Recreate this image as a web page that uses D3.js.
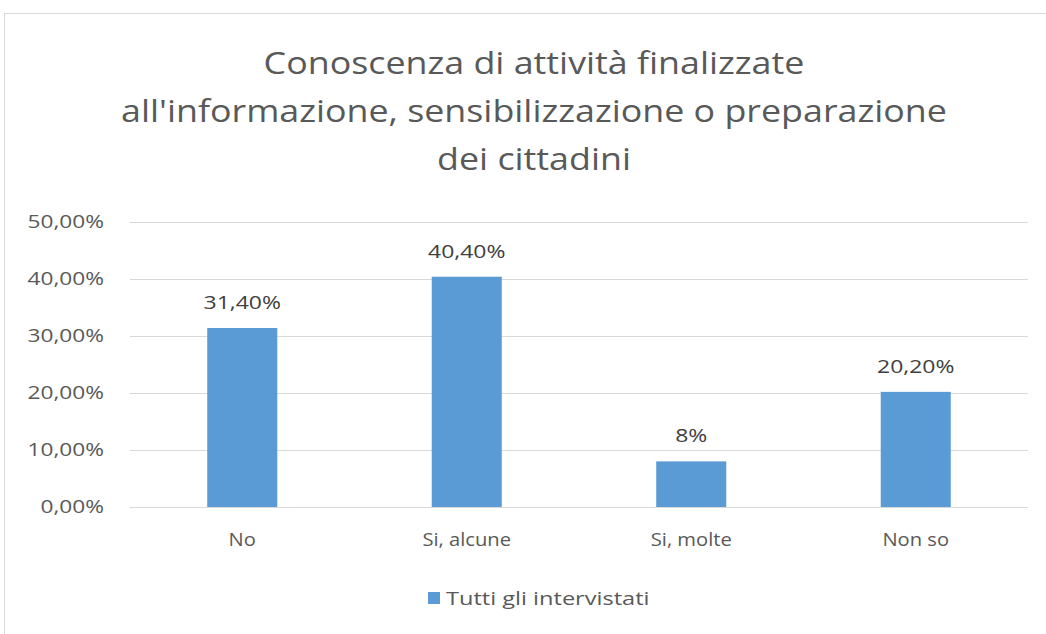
<!DOCTYPE html>
<html>
<head>
<meta charset="utf-8">
<script src="https://cdn.jsdelivr.net/npm/d3@7"></script>
<style>
  body { margin: 0; background: #fff; }
  svg { display: block; font-family: "Open Sans", sans-serif; }
</style>
</head>
<body>
<div id="chart"></div>
<script>
// data
let categories = ["No", "Si, alcune", "Si, molte", "Non so"];
let values = [0.314, 0.404, 0.08, 0.202];
let valueLabels = ["31,40%", "40,40%", "8%", "20,20%"];
let yTicks = [0, 0.1, 0.2, 0.3, 0.4, 0.5];
let yTickLabels = ["0,00%", "10,00%", "20,00%", "30,00%", "40,00%", "50,00%"];
let titleLines = ["Conoscenza di attività finalizzate", "all'informazione, sensibilizzazione o preparazione", "dei cittadini"];
let seriesName = "Tutti gli intervistati";

let W = 1046, H = 634;
let margin = {top: 222, right: 18, bottom: 127, left: 130};

// the reference text is drawn a bit wider than the font, stretch it
function stretch(sel, factor) {
  sel.each(function() {
    let len = this.getComputedTextLength();
    d3.select(this)
      .attr("textLength", len * factor)
      .attr("lengthAdjust", "spacingAndGlyphs");
  });
}

let svg = d3.select("#chart").append("svg")
  .attr("width", W)
  .attr("height", H);

// chart frame
svg.append("rect")
  .attr("x", 4.5).attr("y", 13.5)
  .attr("width", W + 10).attr("height", H + 10)
  .attr("fill", "#fff")
  .attr("stroke", "#d9d9d9");

let x = d3.scaleBand()
  .domain(categories)
  .range([margin.left, W - margin.right])
  .paddingInner(0.688)
  .paddingOuter(0.344);

let y = d3.scaleLinear()
  .domain([0, 0.5])
  .range([H - margin.bottom, margin.top]);

// title
let title = svg.append("text")
  .attr("text-anchor", "middle")
  .attr("fill", "#595959")
  .style("font-size", "31px")
  .selectAll("tspan")
  .data(titleLines)
  .enter()
  .append("tspan")
  .attr("x", 534)
  .attr("y", (d, i) => 74 + i * 48)
  .text(d => d);
stretch(title, 1.155);

// gridlines
svg.append("g")
  .selectAll("line")
  .data(yTicks)
  .enter()
  .append("line")
  .attr("x1", margin.left).attr("x2", W - margin.right)
  .attr("y1", d => Math.round(y(d)) + 0.5).attr("y2", d => Math.round(y(d)) + 0.5)
  .attr("stroke", "#d9d9d9")
  .attr("stroke-width", 1);

// y axis labels
let yAxis = d3.axisLeft(y)
  .tickValues(yTicks)
  .tickSize(0)
  .tickPadding(26)
  .tickFormat((d, i) => yTickLabels[i]);

let gy = svg.append("g")
  .attr("transform", "translate(" + margin.left + ",0)")
  .call(yAxis);
gy.select(".domain").remove();
gy.selectAll("text")
  .attr("fill", "#595959")
  .style("font-size", "18px")
  .style("font-family", "'Open Sans', sans-serif")
  .call(stretch, 1.26);

// bars
svg.append("g")
  .selectAll("rect")
  .data(values)
  .enter()
  .append("rect")
  .attr("x", (d, i) => x(categories[i]))
  .attr("y", d => y(d))
  .attr("width", x.bandwidth())
  .attr("height", d => y(0) - y(d))
  .attr("fill", "#5b9bd5");

// value labels
svg.append("g")
  .selectAll("text")
  .data(values)
  .enter()
  .append("text")
  .attr("x", (d, i) => x(categories[i]) + x.bandwidth() / 2)
  .attr("y", d => y(d) - 19)
  .attr("text-anchor", "middle")
  .attr("fill", "#404040")
  .style("font-size", "18.5px")
  .text((d, i) => valueLabels[i])
  .call(stretch, 1.24);

// x axis labels
let xAxis = d3.axisBottom(x).tickSize(0).tickPadding(26);
let gx = svg.append("g")
  .attr("transform", "translate(0," + y(0) + ")")
  .call(xAxis);
gx.select(".domain").remove();
gx.selectAll("text")
  .attr("fill", "#595959")
  .style("font-size", "18px")
  .style("font-family", "'Open Sans', sans-serif")
  .call(stretch, 1.12);

// legend
let legend = svg.append("g").attr("transform", "translate(428,592)");
legend.append("rect")
  .attr("width", 12).attr("height", 12)
  .attr("fill", "#5b9bd5");
legend.append("text")
  .attr("x", 18).attr("y", 12.5)
  .attr("fill", "#595959")
  .style("font-size", "19px")
  .text(seriesName)
  .call(stretch, 1.24);
</script>
</body>
</html>
